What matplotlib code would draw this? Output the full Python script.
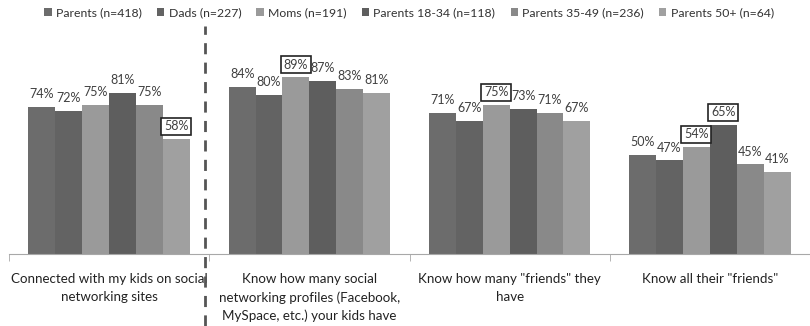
import matplotlib.pyplot as plt
import numpy as np

# Survey results, percent of parents
categories = [
    "Connected with my kids on social\nnetworking sites",
    "Know how many social\nnetworking profiles (Facebook,\nMySpace, etc.) your kids have",
    "Know how many \"friends\" they\nhave",
    "Know all their \"friends\"",
]
series = [
    "Parents (n=418)",
    "Dads (n=227)",
    "Moms (n=191)",
    "Parents 18-34 (n=118)",
    "Parents 35-49 (n=236)",
    "Parents 50+ (n=64)",
]
parents = [74, 84, 71, 50]
dads = [72, 80, 67, 47]
moms = [75, 89, 75, 54]
parents_18_34 = [81, 87, 73, 65]
parents_35_49 = [75, 83, 71, 45]
parents_50_plus = [58, 81, 67, 41]
values = [parents, dads, moms, parents_18_34, parents_35_49, parents_50_plus]

# (series index, category index) of the labels drawn with a box
boxed = {(5, 0), (2, 1), (2, 2), (2, 3), (3, 3)}

colors = ["#6c6c6c", "#636363", "#9a9a9a", "#5e5e5e", "#898989", "#a0a0a0"]

plt.rcParams['font.family'] = ['Lato', 'DejaVu Sans']

fig = plt.figure(figsize=(8.1, 3.26), dpi=100)
ax = fig.add_axes([9 / 810, 72 / 326, 801 / 810, 199 / 326])

x = np.arange(len(categories))
width = 164 / 203.5 / 6

for i, (name, vals, col) in enumerate(zip(series, values, colors)):
    pos = x - 2.5 * width + i * width
    ax.bar(pos, vals, width, color=col, label=name, linewidth=0)
    for j, (p, v) in enumerate(zip(pos, vals)):
        if (i, j) in boxed:
            ax.annotate(f"{v}%", (p, v), xytext=(0, 4.5), textcoords='offset points',
                        ha='center', va='bottom', fontsize=9, color='#404040',
                        bbox=dict(boxstyle='square,pad=0.22', fc='white', ec='#222222', lw=1.2))
        else:
            ax.annotate(f"{v}%", (p, v), xytext=(0, 5), textcoords='offset points',
                        ha='center', va='bottom', fontsize=9, color='#404040')

ax.set_xlim(-0.5, -0.5 + 801 / 203.5)
ax.set_ylim(0, 100)

for side in ['top', 'right', 'left']:
    ax.spines[side].set_visible(False)
ax.spines['bottom'].set_color('#a8a8a8')
ax.set_yticks([])

ax.set_xticks(x)
ax.set_xticklabels(categories, fontsize=9.6, color='#222222', linespacing=1.55)
ax.tick_params(axis='x', which='major', length=0, pad=14)
ax.set_xticks(np.arange(-0.5, 4.0, 1.0), minor=True)
ax.tick_params(axis='x', which='minor', length=5, color='#a8a8a8')

# dashed divider after the first group
fig.add_artist(plt.Line2D([205 / 810, 205 / 810], [0, 1 - 26 / 326], color='#555555',
                          lw=2, linestyle=(0, (4, 3)), transform=fig.transFigure))

fig.legend(loc='center', bbox_to_anchor=(0.505, 1 - 13 / 326), ncol=6, frameon=False,
           fontsize=8.8, handlelength=0.6, handleheight=0.6, handletextpad=0.35,
           columnspacing=1.25, labelcolor='#333333')

fig.savefig('out.png', dpi=100)
